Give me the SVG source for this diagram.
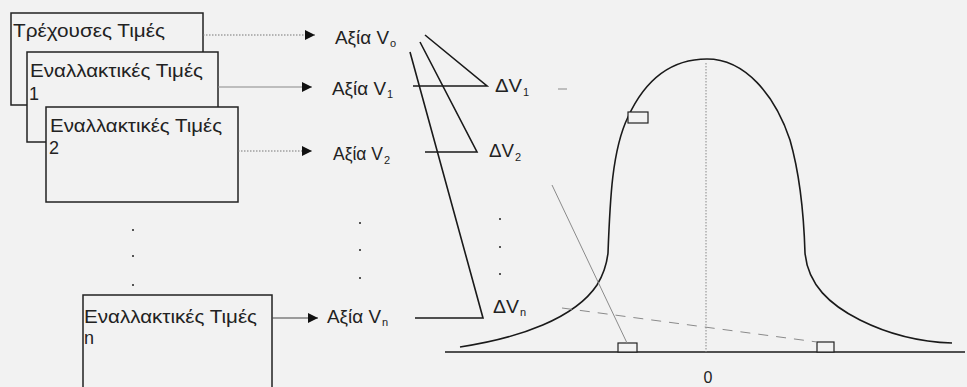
<svg xmlns="http://www.w3.org/2000/svg" width="967" height="387" viewBox="0 0 967 387">
<style>
.bg{fill:#f2f2f2}
.box{fill:#f2f2f2;stroke:#222;stroke-width:1.5}
.t{font-family:"Liberation Sans",Arial,sans-serif;font-size:18px;fill:#222}
.sub{font-family:"Liberation Sans",Arial,sans-serif;font-size:11px;fill:#222}
.blk{stroke:#1a1a1a;stroke-width:1.6;fill:none}
.gr{stroke:#8a8a8a;stroke-width:1;fill:none}
.dot{fill:#555}
</style>
<defs>
<marker id="ah" markerUnits="userSpaceOnUse" markerWidth="10" markerHeight="10" refX="10" refY="5" orient="auto">
<path d="M0,0 L10,5 L0,10 z" fill="#111"/>
</marker>
</defs>
<rect class="bg" x="0" y="0" width="967" height="387"/>

<g id="box0">
<rect class="box" x="11" y="13" width="192" height="92"/>
<text class="t" x="13" y="37" textLength="152" lengthAdjust="spacingAndGlyphs">Τρέχουσες Τιμές</text>
</g>
<g id="box1">
<rect class="box" x="27" y="52" width="191" height="90"/>
<text class="t" x="30" y="77" textLength="173" lengthAdjust="spacingAndGlyphs">Εναλλακτικές Τιμές</text>
<text class="t" x="29" y="100">1</text>
</g>
<g id="box2">
<rect class="box" x="46" y="107" width="192" height="95"/>
<text class="t" x="50" y="132" textLength="172" lengthAdjust="spacingAndGlyphs">Εναλλακτικές Τιμές</text>
<text class="t" x="49" y="154">2</text>
</g>
<g id="boxn">
<rect class="box" x="83" y="295" width="189" height="100"/>
<text class="t" x="84" y="323" textLength="173" lengthAdjust="spacingAndGlyphs">Εναλλακτικές Τιμές</text>
<text class="t" x="84" y="344">n</text>
</g>

<g id="dots">
<rect class="dot" x="132" y="229" width="2" height="2"/>
<rect class="dot" x="132" y="255" width="2" height="2"/>
<rect class="dot" x="132" y="284" width="2" height="2"/>
<rect class="dot" x="359" y="222" width="2" height="2"/>
<rect class="dot" x="359" y="249" width="2" height="2"/>
<rect class="dot" x="359" y="277" width="2" height="2"/>
<rect class="dot" x="499" y="218" width="2" height="2"/>
<rect class="dot" x="499" y="246" width="2" height="2"/>
<rect class="dot" x="499" y="273" width="2" height="2"/>
</g>

<g id="v0">
<text class="t" x="335" y="44" textLength="54" lengthAdjust="spacingAndGlyphs">Αξία V</text>
<text class="sub" x="390" y="47">o</text>
</g>
<g id="v1">
<text class="t" x="332" y="95" textLength="54" lengthAdjust="spacingAndGlyphs">Αξία V</text>
<text class="sub" x="387" y="98">1</text>
</g>
<g id="v2">
<text class="t" x="333" y="160" textLength="50" lengthAdjust="spacingAndGlyphs">Αξία V</text>
<text class="sub" x="384" y="164">2</text>
</g>
<g id="vn">
<text class="t" x="327" y="323" textLength="54" lengthAdjust="spacingAndGlyphs">Αξία V</text>
<text class="sub" x="382" y="326">n</text>
</g>
<g id="dv1">
<text class="t" x="495" y="92" textLength="27" lengthAdjust="spacingAndGlyphs">ΔV</text>
<text class="sub" x="523" y="96">1</text>
</g>
<g id="dv2">
<text class="t" x="489" y="157" textLength="25" lengthAdjust="spacingAndGlyphs">ΔV</text>
<text class="sub" x="515" y="161">2</text>
</g>
<g id="dvn">
<text class="t" x="493" y="313" textLength="26" lengthAdjust="spacingAndGlyphs">ΔV</text>
<text class="sub" x="520" y="316">n</text>
</g>

<g id="chart">
<line class="blk" x1="445" y1="352" x2="965" y2="352"/>
<line x1="706" y1="63" x2="706" y2="352" stroke="#888" stroke-width="1" stroke-dasharray="1.5 1.5"/>
<path class="blk" d="M460,347 C520,338 575,318 597,285 C605,272 607,262 608,253 C610,200 612,150 628,117 C645,80 670,59 707,59 C745,59 775,95 790,140 C800,175 804,220 805,253 C808,285 830,305 860,320 C890,335 920,342 952,343"/>
<rect x="628" y="112" width="20" height="11" fill="#f2f2f2" stroke="#222" stroke-width="1.2"/>
<rect x="618" y="343" width="19" height="9" fill="#f2f2f2" stroke="#222" stroke-width="1.2"/>
<rect x="817" y="342" width="17" height="10" fill="#f2f2f2" stroke="#222" stroke-width="1.2"/>
<text class="t" x="708" y="383" text-anchor="middle" style="font-size:16px">0</text>
</g>

<g id="connectors">
<line x1="203" y1="35" x2="315" y2="35" stroke="#777" stroke-width="1" stroke-dasharray="1.5 1.5" marker-end="url(#ah)"/>
<line x1="218" y1="87" x2="312" y2="87" stroke="#888" stroke-width="1" marker-end="url(#ah)"/>
<line x1="238" y1="151" x2="312" y2="151" stroke="#777" stroke-width="1" stroke-dasharray="1.5 1.5" marker-end="url(#ah)"/>
<line x1="272" y1="318" x2="318" y2="318" stroke="#444" stroke-width="1" marker-end="url(#ah)"/>
<polyline class="blk" points="425,35 487,86 413,86"/>
<polyline class="blk" points="420,42 477,152 425,152"/>
<polyline class="blk" points="410,52 483,318 415,318"/>
<line class="gr" x1="558" y1="89" x2="567" y2="89"/>
<line class="gr" x1="552" y1="185" x2="627" y2="343"/>
<line class="gr" x1="562" y1="308" x2="817" y2="342" stroke-dasharray="10 8"/>
</g>
</svg>
